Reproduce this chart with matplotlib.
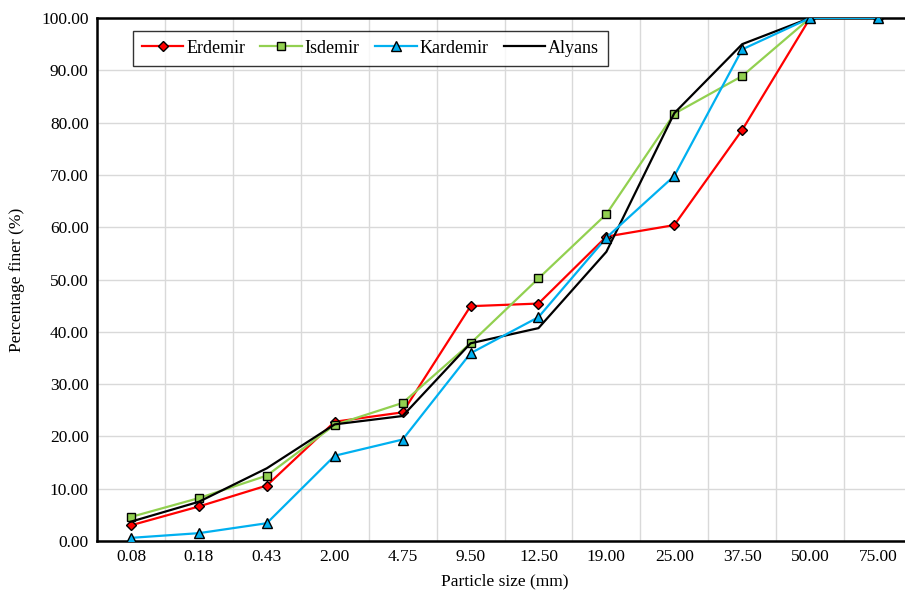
import numpy as np
import matplotlib
matplotlib.use("Agg")
import matplotlib.pyplot as plt

# particle sizes (categories) and percentage finer for each material
sizes = ["0.08", "0.18", "0.43", "2.00", "4.75", "9.50", "12.50",
         "19.00", "25.00", "37.50", "50.00", "75.00"]
erdemir = [3.0, 6.6, 10.6, 22.8, 24.6, 44.9, 45.4, 58.2, 60.4, 78.6, 100.0, 100.0]
isdemir = [4.6, 8.2, 12.5, 22.2, 26.4, 37.8, 50.2, 62.5, 81.7, 88.9, 100.0, 100.0]
kardemir = [0.6, 1.5, 3.4, 16.3, 19.4, 35.9, 42.8, 58.0, 69.8, 94.0, 100.0, 100.0]
alyans = [3.7, 7.5, 13.9, 22.3, 23.9, 37.8, 40.7, 55.3, 81.8, 95.0, 100.0, 100.0]

plt.rcParams["font.family"] = ["Liberation Serif", "DejaVu Serif"]

fig = plt.figure(figsize=(9.05, 5.99), dpi=100)
# axes runs slightly past the right edge, as in the original image
ax = fig.add_axes([97 / 905, 58 / 599, 815 / 905, 523 / 599])

x = np.arange(len(sizes))

ax.plot(x, erdemir, color="#FF0000", lw=1.6, marker="D", ms=5.5,
        mfc="#FF0000", mec="black", mew=1.0, label="Erdemir", zorder=3)
ax.plot(x, isdemir, color="#92D050", lw=1.6, marker="s", ms=5.5,
        mfc="#92D050", mec="black", mew=1.0, label="Isdemir", zorder=3)
ax.plot(x, kardemir, color="#00B0F0", lw=1.6, marker="^", ms=6.5,
        mfc="#00B0F0", mec="black", mew=1.0, label="Kardemir", zorder=4)
ax.plot(x, alyans, color="black", lw=1.6, label="Alyans", zorder=3)

ax.set_xlim(-0.5, len(sizes) - 0.5)
ax.set_ylim(0, 100)
ax.set_xticks(x)
ax.set_xticklabels(sizes)
ax.set_yticks(np.arange(0, 101, 10))
ax.set_yticklabels([f"{v:.2f}" for v in np.arange(0, 101, 10)])

# gridlines at category centres and boundaries
ax.set_xticks(np.arange(-0.5, len(sizes), 0.5), minor=True)
ax.tick_params(which="both", length=0, labelsize=12.5, pad=6)
ax.grid(which="minor", axis="x", color="#D9D9D9", lw=1.0)
ax.grid(which="major", axis="y", color="#D9D9D9", lw=1.0)
ax.set_axisbelow(True)

for sp in ax.spines.values():
    sp.set_color("black")
    sp.set_linewidth(1.8)

ax.set_xlabel("Particle size (mm)", fontsize=12.5, labelpad=6)
ax.set_ylabel("Percentage finer (%)", fontsize=12.5, labelpad=12)

leg = ax.legend(loc="upper left", bbox_to_anchor=(0.044, 0.976), ncol=4,
                fontsize=13, frameon=True, fancybox=False, edgecolor="black",
                handlelength=2.3, handletextpad=0.15, columnspacing=0.85,
                borderpad=0.5, borderaxespad=0)
leg.get_frame().set_linewidth(1.0)

fig.savefig("out.png", dpi=100)
